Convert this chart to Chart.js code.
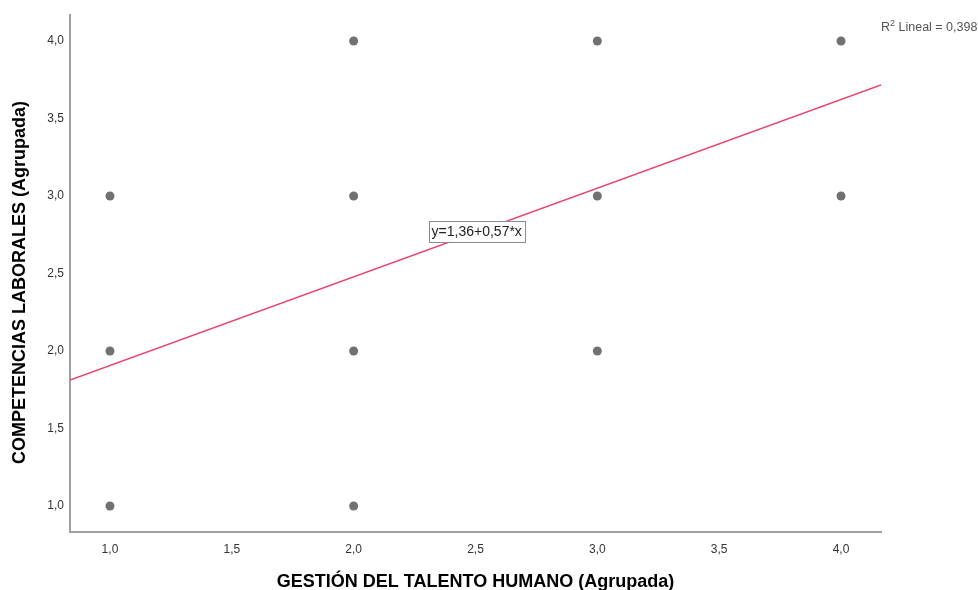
<!DOCTYPE html>
<html>
<head>
<meta charset="utf-8">
<script src="https://cdn.jsdelivr.net/npm/chart.js@4"></script>
<style>
  html, body { margin: 0; padding: 0; background: #fff; }
  #wrap { width: 978px; height: 590px; }
</style>
</head>
<body>
<div id="wrap"><canvas id="chart" width="978" height="590"></canvas></div>
<script>
// Datos del diagrama de dispersión
const gestion = [1, 1, 1, 2, 2, 2, 2, 3, 3, 3, 4, 4];
const competencias = [3, 2, 1, 4, 3, 2, 1, 4, 3, 2, 4, 3];

// Recta de ajuste (extremos)
const lineX = [0.836, 4.164];
const lineY = [1.812, 3.716];

const xTicks = [1.0, 1.5, 2.0, 2.5, 3.0, 3.5, 4.0];
const yTicks = [1.0, 1.5, 2.0, 2.5, 3.0, 3.5, 4.0];

const xTitle = 'GESTIÓN DEL TALENTO HUMANO (Agrupada)';
const yTitle = 'COMPETENCIAS LABORALES (Agrupada)';
const eqText = 'y=1,36+0,57*x';
const r2Text = '0,398';

const fmt = v => Number(v).toFixed(1).replace('.', ',');

// Títulos y etiquetas dibujados a mano
const labelsPlugin = {
    id: 'labels',
    afterDraw(chart) {
        const ctx = chart.ctx;
        const xs = chart.scales.x, ys = chart.scales.y;
        const area = chart.chartArea;
        ctx.save();

        // título eje X
        ctx.fillStyle = '#000';
        ctx.font = 'bold 18px "Liberation Sans", Arial, sans-serif';
        ctx.textAlign = 'center';
        ctx.textBaseline = 'middle';
        ctx.fillText(xTitle, (area.left + area.right) / 2, 582);

        // título eje Y
        ctx.save();
        ctx.translate(20, (area.top + area.bottom) / 2 + 9);
        ctx.rotate(-Math.PI / 2);
        ctx.fillText(yTitle, 0, 0);
        ctx.restore();

        // ecuación
        const ex = xs.getPixelForValue(2.505);
        const ey = ys.getPixelForValue(2.775);
        ctx.font = '14px "Liberation Sans", Arial, sans-serif';
        const w = ctx.measureText(eqText).width + 6;
        ctx.fillStyle = '#fff';
        ctx.fillRect(ex - w / 2, ey - 10, w, 21);
        ctx.strokeStyle = '#8a8a8a';
        ctx.lineWidth = 1;
        ctx.strokeRect(Math.round(ex - w / 2) + 0.5, Math.round(ey - 10) + 0.5, Math.round(w), 21);
        ctx.fillStyle = '#222';
        ctx.fillText(eqText, ex, ey + 1);

        // R² Lineal
        ctx.textAlign = 'left';
        ctx.textBaseline = 'alphabetic';
        ctx.fillStyle = '#555';
        ctx.font = '12.5px "Liberation Sans", Arial, sans-serif';
        let x = 881;
        ctx.fillText('R', x, 31);
        x += ctx.measureText('R').width;
        ctx.font = '9px "Liberation Sans", Arial, sans-serif';
        ctx.fillText('2', x, 26);
        x += ctx.measureText('2').width;
        ctx.font = '12.5px "Liberation Sans", Arial, sans-serif';
        ctx.fillText(' Lineal = ' + r2Text, x, 31);

        ctx.restore();
    }
};

const ctx = document.getElementById('chart').getContext('2d');
new Chart(ctx, {
    type: 'scatter',
    data: {
        datasets: [
            {
                label: 'ajuste',
                type: 'line',
                data: lineX.map((x, i) => ({ x: x, y: lineY[i] })),
                borderColor: '#e8446c',
                borderWidth: 1.5,
                pointRadius: 0,
                fill: false,
                order: 2
            },
            {
                label: 'datos',
                data: gestion.map((x, i) => ({ x: x, y: competencias[i] })),
                backgroundColor: '#717171',
                borderWidth: 0,
                pointRadius: 4.5,
                order: 1
            }
        ]
    },
    options: {
        responsive: false,
        animation: false,
        events: [],
        layout: { padding: { top: 15, right: 97, left: 0, bottom: 0 } },
        plugins: { legend: { display: false }, tooltip: { enabled: false } },
        scales: {
            x: {
                type: 'linear',
                min: 0.836, max: 4.164,
                afterBuildTicks: s => { s.ticks = xTicks.map(v => ({ value: v })); },
                afterFit: s => { s.height = 58; },
                grid: { display: false, drawTicks: false },
                border: { display: true, color: '#a0a0a0', width: 2 },
                ticks: {
                    padding: 10,
                    color: '#333',
                    font: { family: '"Liberation Sans", Arial, sans-serif', size: 12 },
                    callback: fmt,
                    maxRotation: 0
                }
            },
            y: {
                type: 'linear',
                min: 0.832, max: 4.168,
                afterBuildTicks: s => { s.ticks = yTicks.map(v => ({ value: v })); },
                afterFit: s => { s.width = 70; },
                grid: { display: false, drawTicks: false },
                border: { display: true, color: '#a0a0a0', width: 2 },
                ticks: {
                    padding: 6,
                    color: '#333',
                    font: { family: '"Liberation Sans", Arial, sans-serif', size: 12 },
                    callback: fmt
                }
            }
        }
    },
    plugins: [labelsPlugin]
});
</script>
</body>
</html>
